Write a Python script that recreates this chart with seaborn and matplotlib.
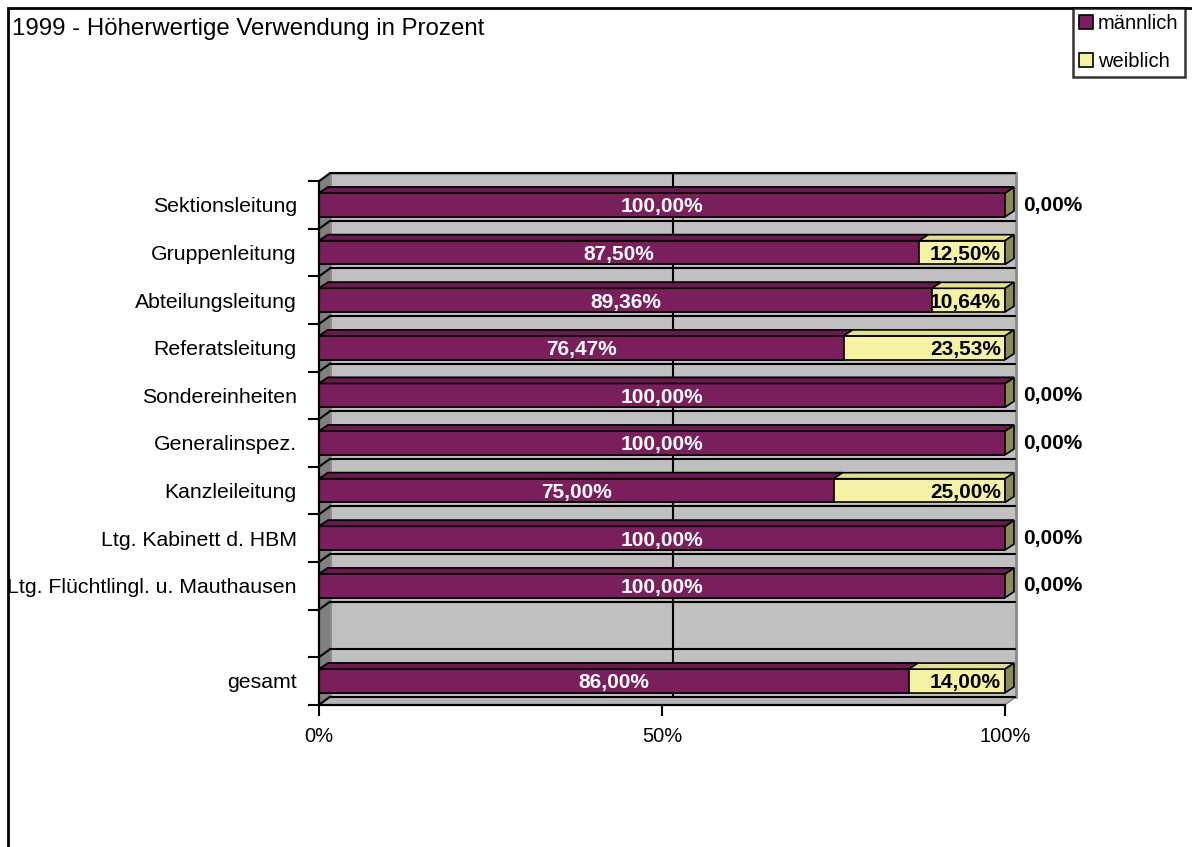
import numpy as np
import pandas as pd
import seaborn as sns
import matplotlib.pyplot as plt
from matplotlib.patches import Polygon, Rectangle, Patch

# chart values
kategorien = [
    "Sektionsleitung",
    "Gruppenleitung",
    "Abteilungsleitung",
    "Referatsleitung",
    "Sondereinheiten",
    "Generalinspez.",
    "Kanzleileitung",
    "Ltg. Kabinett d. HBM",
    "Ltg. Flüchtlingl. u. Mauthausen",
    " ",
    "gesamt",
]
maennlich = [100.00, 87.50, 89.36, 76.47, 100.00, 100.00, 75.00, 100.00, 100.00, np.nan, 86.00]
weiblich = [0.00, 12.50, 10.64, 23.53, 0.00, 0.00, 25.00, 0.00, 0.00, np.nan, 14.00]
x_ticks = [0, 50, 100]
x_ticklabels = ["0%", "50%", "100%"]

TITLE = "1999 - Höherwertige Verwendung in Prozent"
C_MALE = "#7b1f5c"
C_MALE_TOP = "#6a1a4f"
C_FEMALE = "#f5f2a3"
C_FEMALE_TOP = "#e3df8f"
C_SIDE = "#8c8a55"
W, H = 1192, 847


def fmt(v: float) -> str:
    return f"{v:.2f}".replace(".", ",") + "%"


def px_to_data(ax, dx: float, dy: float):
    """Convert an offset in pixels (right, up) into data units."""
    inv = ax.transData.inverted()
    o = ax.transData.transform((0, 0))
    p = inv.transform(o + np.array([dx, dy]))
    return p[0], p[1]


def add_3d_faces(ax, bars, top_color, side_color=None, dx=9, dy=6, z=2):
    """Add a top face (and optionally a right side face) to each bar patch."""
    ddx, ddy = px_to_data(ax, dx, dy)
    for p in bars:
        x0, y0, w, h = p.get_x(), p.get_y(), p.get_width(), p.get_height()
        top = Polygon([(x0, y0), (x0 + w, y0), (x0 + w + ddx, y0 + ddy), (x0 + ddx, y0 + ddy)],
                      closed=True, fc=top_color, ec="black", lw=1.2, zorder=z, clip_on=False)
        ax.add_patch(top)
        if side_color is not None:
            side = Polygon([(x0 + w, y0), (x0 + w, y0 + h), (x0 + w + ddx, y0 + h + ddy),
                            (x0 + w + ddx, y0 + ddy)],
                           closed=True, fc=side_color, ec="black", lw=1.2, zorder=z, clip_on=False)
            ax.add_patch(side)


df = pd.DataFrame({"kategorie": kategorien, "maennlich": maennlich, "weiblich": weiblich})
df = df.dropna()
df["summe"] = df["maennlich"] + df["weiblich"]

sns.set_style("white")
plt.rcParams["font.family"] = ["Liberation Sans", "DejaVu Sans"]
plt.rcParams["text.color"] = "black"
plt.rcParams["xtick.color"] = "black"
plt.rcParams["ytick.color"] = "black"

fig = plt.figure(figsize=(W / 100, H / 100), dpi=100)
ax = fig.add_axes([319 / W, 1 - 704.8 / H, 686 / W, 523.6 / H])
n = len(kategorien)
ax.set_xlim(0, 100)
ax.set_ylim(n - 0.5, -0.5)

# stacked bars: total in yellow, male part on top
sns.barplot(data=df, y="kategorie", x="summe", order=kategorien, orient="h", color=C_FEMALE,
            saturation=1, width=0.5, edgecolor="black", linewidth=1.2, ax=ax, zorder=2)
sns.barplot(data=df, y="kategorie", x="maennlich", order=kategorien, orient="h", color=C_MALE,
            saturation=1, width=0.5, edgecolor="black", linewidth=1.2, ax=ax, zorder=3)
female_bars = [p for p in ax.containers[0] if np.isfinite(p.get_width())]
male_bars = [p for p in ax.containers[1] if np.isfinite(p.get_width())]
ax.set_xlim(0, 100)
ax.set_ylim(n - 0.5, -0.5)

# walls of the 3d box
wdx, wdy = px_to_data(ax, 11, 8)
ax.add_patch(Polygon([(wdx, -0.5 + wdy), (100 + wdx, -0.5 + wdy), (100 + wdx, n - 0.5 + wdy),
                      (wdx, n - 0.5 + wdy)], fc="#c0c0c0", ec="#8a8a8a", lw=2, zorder=0, clip_on=False))
ax.add_patch(Polygon([(0, -0.5), (wdx, -0.5 + wdy), (wdx, n - 0.5 + wdy), (0, n - 0.5)],
                     fc="#808080", ec="none", zorder=0.5, clip_on=False))
ax.add_patch(Polygon([(0, n - 0.5), (100, n - 0.5), (100 + wdx, n - 0.5 + wdy), (wdx, n - 0.5 + wdy)],
                     fc="#b4b4b4", ec="#808080", lw=1, zorder=0.5, clip_on=False))
for b in np.arange(-0.5, n):
    ax.plot([wdx, 100 + wdx - 0.15], [b + wdy, b + wdy], color="black", lw=1.5, zorder=0.6,
            clip_on=False)
    ax.plot([0, wdx], [b, b + wdy], color="black", lw=1.5, zorder=0.6, clip_on=False)
ax.plot([50 + wdx, 50 + wdx], [-0.5 + wdy, n - 0.5 + wdy], color="black", lw=1.5, zorder=0.6,
        clip_on=False)

add_3d_faces(ax, female_bars, C_FEMALE_TOP, C_SIDE, z=2.1)
add_3d_faces(ax, male_bars, C_MALE_TOP, None, z=3.1)

# value labels
off_x, _ = px_to_data(ax, 18, 0)
for mb, fb, (_, row) in zip(male_bars, female_bars, df.iterrows()):
    yc = mb.get_y() + mb.get_height() / 2
    ax.text(mb.get_x() + mb.get_width() / 2, yc + 0.04, fmt(row["maennlich"]), color="white",
            fontsize=15, fontweight="bold", ha="center", va="center", zorder=5)
    end = fb.get_x() + fb.get_width()
    if row["weiblich"] > 0:
        ax.text(end - 0.6, yc + 0.04, fmt(row["weiblich"]), color="black", fontsize=15,
                fontweight="bold", ha="right", va="center", zorder=5)
    else:
        ax.text(end + off_x, yc, fmt(row["weiblich"]), color="black", fontsize=15,
                fontweight="bold", ha="left", va="center", zorder=5, clip_on=False)

# axes styling
ax.set_xlabel("")
ax.set_ylabel("")
ax.set_xticks(x_ticks)
ax.set_xticklabels(x_ticklabels, fontsize=14.5)
ax.set_yticks(range(n))
ax.set_yticklabels(kategorien, fontsize=15.3)
ax.set_yticks(np.arange(-0.5, n), minor=True)
ax.tick_params(axis="y", which="major", length=0, pad=16)
ax.tick_params(axis="y", which="minor", length=8, width=1.5, color="black", left=True)
ax.tick_params(axis="x", which="major", length=8, width=1.5, color="black", bottom=True, pad=8)
for s in ["top", "right"]:
    ax.spines[s].set_visible(False)
for s in ["left", "bottom"]:
    ax.spines[s].set_color("black")
    ax.spines[s].set_linewidth(1.6)
    ax.spines[s].set_zorder(6)
ax.patch.set_alpha(0)

fig.text(12 / W, 1 - 29 / H, TITLE, fontsize=17.3, ha="left", va="center", color="black")

handles = [Patch(fc=C_MALE, ec="black", lw=1.2), Patch(fc=C_FEMALE, ec="black", lw=1.2)]
leg = fig.legend(handles, ["männlich", "weiblich"], loc="upper left",
                 bbox_to_anchor=(1073 / W, 1 - 8 / H), fontsize=14.5, frameon=True,
                 fancybox=False, edgecolor="black", handlelength=0.7, handleheight=0.7,
                 handletextpad=0.25, borderpad=0.3, labelspacing=0.95, borderaxespad=0)
leg.get_frame().set_linewidth(1.8)
for t in leg.get_texts():
    t.set_color("black")

# outer chart frame (cut off at right and bottom)
fig.add_artist(Rectangle((8 / W, -0.1), 1.2, 1.1 - 8 / H, transform=fig.transFigure, fill=False,
                         ec="black", lw=2, clip_on=False))

fig.savefig("out.png", dpi=100)
